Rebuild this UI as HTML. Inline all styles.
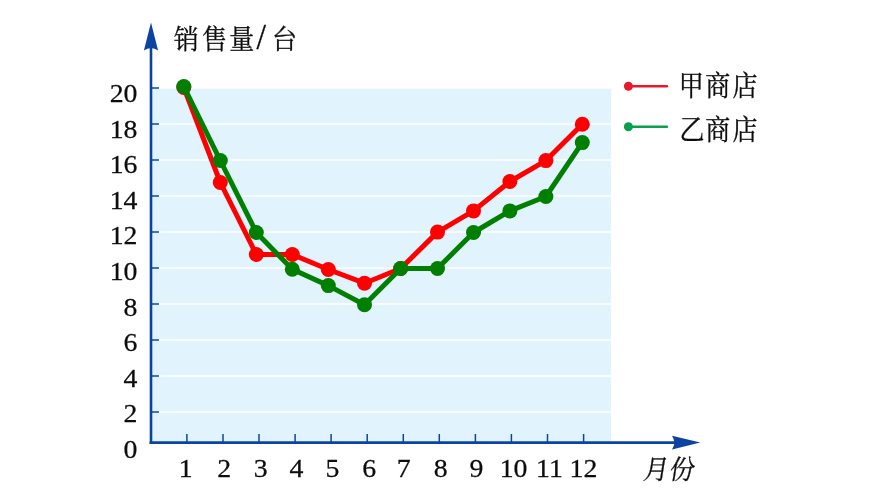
<!DOCTYPE html>
<html lang="zh-CN">
<head>
<meta charset="utf-8">
<title>销售量折线图</title>
<style>
html,body{margin:0;padding:0;background:#fff;}
body{width:870px;height:489px;overflow:hidden;}
svg{display:block;}
.num{font-family:"Liberation Serif","Noto Serif CJK SC",serif;font-size:26px;fill:#0d0d0d;stroke:#0d0d0d;stroke-width:0.25px;}
.cjk{font-family:"Liberation Serif","Noto Serif CJK SC",serif;font-size:25px;fill:#0d0d0d;stroke:#0d0d0d;stroke-width:0.3px;}
</style>
</head>
<body>
<svg width="870" height="489" viewBox="0 0 870 489">
<rect x="0" y="0" width="870" height="489" fill="#ffffff"/>
<rect x="151" y="88" width="460" height="354" fill="#e1f3fd"/>

<line x1="152" y1="88" x2="611" y2="88" stroke="#ffffff" stroke-width="1.6"/>
<line x1="152" y1="124" x2="611" y2="124" stroke="#ffffff" stroke-width="1.6"/>
<line x1="152" y1="160" x2="611" y2="160" stroke="#ffffff" stroke-width="1.6"/>
<line x1="152" y1="196" x2="611" y2="196" stroke="#ffffff" stroke-width="1.6"/>
<line x1="152" y1="232" x2="611" y2="232" stroke="#ffffff" stroke-width="1.6"/>
<line x1="152" y1="268" x2="611" y2="268" stroke="#ffffff" stroke-width="1.6"/>
<line x1="152" y1="304" x2="611" y2="304" stroke="#ffffff" stroke-width="1.6"/>
<line x1="152" y1="340" x2="611" y2="340" stroke="#ffffff" stroke-width="1.6"/>
<line x1="152" y1="376" x2="611" y2="376" stroke="#ffffff" stroke-width="1.6"/>
<line x1="152" y1="412" x2="611" y2="412" stroke="#ffffff" stroke-width="1.6"/>
<line x1="151" y1="88" x2="159" y2="88" stroke="#0a44a0" stroke-width="1.5"/>
<line x1="151" y1="124" x2="159" y2="124" stroke="#0a44a0" stroke-width="1.5"/>
<line x1="151" y1="160" x2="159" y2="160" stroke="#0a44a0" stroke-width="1.5"/>
<line x1="151" y1="196" x2="159" y2="196" stroke="#0a44a0" stroke-width="1.5"/>
<line x1="151" y1="232" x2="159" y2="232" stroke="#0a44a0" stroke-width="1.5"/>
<line x1="151" y1="268" x2="159" y2="268" stroke="#0a44a0" stroke-width="1.5"/>
<line x1="151" y1="304" x2="159" y2="304" stroke="#0a44a0" stroke-width="1.5"/>
<line x1="151" y1="340" x2="159" y2="340" stroke="#0a44a0" stroke-width="1.5"/>
<line x1="151" y1="376" x2="159" y2="376" stroke="#0a44a0" stroke-width="1.5"/>
<line x1="151" y1="412" x2="159" y2="412" stroke="#0a44a0" stroke-width="1.5"/>
<line x1="186.9" y1="434" x2="186.9" y2="442" stroke="#0a44a0" stroke-width="1.5"/>
<line x1="223.0" y1="434" x2="223.0" y2="442" stroke="#0a44a0" stroke-width="1.5"/>
<line x1="259.0" y1="434" x2="259.0" y2="442" stroke="#0a44a0" stroke-width="1.5"/>
<line x1="295.1" y1="434" x2="295.1" y2="442" stroke="#0a44a0" stroke-width="1.5"/>
<line x1="331.1" y1="434" x2="331.1" y2="442" stroke="#0a44a0" stroke-width="1.5"/>
<line x1="367.2" y1="434" x2="367.2" y2="442" stroke="#0a44a0" stroke-width="1.5"/>
<line x1="403.3" y1="434" x2="403.3" y2="442" stroke="#0a44a0" stroke-width="1.5"/>
<line x1="439.3" y1="434" x2="439.3" y2="442" stroke="#0a44a0" stroke-width="1.5"/>
<line x1="475.4" y1="434" x2="475.4" y2="442" stroke="#0a44a0" stroke-width="1.5"/>
<line x1="511.4" y1="434" x2="511.4" y2="442" stroke="#0a44a0" stroke-width="1.5"/>
<line x1="547.5" y1="434" x2="547.5" y2="442" stroke="#0a44a0" stroke-width="1.5"/>
<line x1="583.6" y1="434" x2="583.6" y2="442" stroke="#0a44a0" stroke-width="1.5"/>
<line x1="151" y1="444" x2="151" y2="45" stroke="#0a44a0" stroke-width="2.6"/>
<line x1="149.6" y1="442.6" x2="676" y2="442.6" stroke="#0a44a0" stroke-width="2.6"/>
<path d="M151 22.6 L158.1 50.6 Q151 45.2 143.9 50.6 Z" fill="#0a44a0"/>
<path d="M700.3 442.6 L672 449.6 Q676.5 442.6 672 435.8 Z" fill="#0a44a0"/>
<text class="num" transform="translate(137.5 102.0) scale(1.07 1)" text-anchor="end">20</text>
<text class="num" transform="translate(137.5 137.6) scale(1.07 1)" text-anchor="end">18</text>
<text class="num" transform="translate(137.5 173.2) scale(1.07 1)" text-anchor="end">16</text>
<text class="num" transform="translate(137.5 208.8) scale(1.07 1)" text-anchor="end">14</text>
<text class="num" transform="translate(137.5 244.4) scale(1.07 1)" text-anchor="end">12</text>
<text class="num" transform="translate(137.5 280.0) scale(1.07 1)" text-anchor="end">10</text>
<text class="num" transform="translate(137.5 315.6) scale(1.07 1)" text-anchor="end">8</text>
<text class="num" transform="translate(137.5 351.2) scale(1.07 1)" text-anchor="end">6</text>
<text class="num" transform="translate(137.5 386.8) scale(1.07 1)" text-anchor="end">4</text>
<text class="num" transform="translate(137.5 422.4) scale(1.07 1)" text-anchor="end">2</text>
<text class="num" transform="translate(137.5 458.0) scale(1.07 1)" text-anchor="end">0</text>
<text class="num" transform="translate(185.8 477) scale(1.07 1)" text-anchor="middle">1</text>
<text class="num" transform="translate(224.1 477) scale(1.07 1)" text-anchor="middle">2</text>
<text class="num" transform="translate(260.6 477) scale(1.07 1)" text-anchor="middle">3</text>
<text class="num" transform="translate(296.5 477) scale(1.07 1)" text-anchor="middle">4</text>
<text class="num" transform="translate(332.5 477) scale(1.07 1)" text-anchor="middle">5</text>
<text class="num" transform="translate(369.1 477) scale(1.07 1)" text-anchor="middle">6</text>
<text class="num" transform="translate(403.8 477) scale(1.07 1)" text-anchor="middle">7</text>
<text class="num" transform="translate(440.6 477) scale(1.07 1)" text-anchor="middle">8</text>
<text class="num" transform="translate(476.5 477) scale(1.07 1)" text-anchor="middle">9</text>
<text class="num" transform="translate(513.6 477) scale(1.07 1)" text-anchor="middle">10</text>
<text class="num" transform="translate(549.4 477) scale(1.07 1)" text-anchor="middle">11</text>
<text class="num" transform="translate(583.4 477) scale(1.07 1)" text-anchor="middle">12</text>
<text class="cjk" transform="translate(0 48.5) scale(1 1.08)"><tspan x="173.7">销</tspan><tspan x="202">售</tspan><tspan x="229.2">量</tspan><tspan x="256.6" font-size="34">/</tspan><tspan x="272">台</tspan></text>
<text class="cjk" transform="translate(0 478.5) skewX(-9) scale(1 1.08)"><tspan x="642.6">月</tspan><tspan x="668.6">份</tspan></text>
<polyline points="183.8,87.5 220.3,182.5 256.3,254.5 292.3,254.5 328.3,269.5 364.5,283.2 400.7,268.5 437.5,232.1 473.5,210.9 509.9,181.5 545.9,160.6 582.3,124.2" fill="none" stroke="#fe0000" stroke-width="5" stroke-linejoin="round" stroke-linecap="round"/>
<circle cx="183.8" cy="87.5" r="7.5" fill="#fe0000"/>
<circle cx="220.3" cy="182.5" r="7.5" fill="#fe0000"/>
<circle cx="256.3" cy="254.5" r="7.5" fill="#fe0000"/>
<circle cx="292.3" cy="254.5" r="7.5" fill="#fe0000"/>
<circle cx="328.3" cy="269.5" r="7.5" fill="#fe0000"/>
<circle cx="364.5" cy="283.2" r="7.5" fill="#fe0000"/>
<circle cx="400.7" cy="268.5" r="7.5" fill="#fe0000"/>
<circle cx="437.5" cy="232.1" r="7.5" fill="#fe0000"/>
<circle cx="473.5" cy="210.9" r="7.5" fill="#fe0000"/>
<circle cx="509.9" cy="181.5" r="7.5" fill="#fe0000"/>
<circle cx="545.9" cy="160.6" r="7.5" fill="#fe0000"/>
<circle cx="582.3" cy="124.2" r="7.5" fill="#fe0000"/>
<polyline points="183.8,86.5 220.3,160.5 256.3,232.5 292.3,269.3 328.3,285.6 364.5,304.7 400.7,268.5 437.5,268.5 473.5,232.5 509.9,210.9 545.9,196.5 582.3,142.6" fill="none" stroke="#007f00" stroke-width="5" stroke-linejoin="round" stroke-linecap="round"/>
<circle cx="183.8" cy="86.5" r="7.5" fill="#007f00"/>
<circle cx="220.3" cy="160.5" r="7.5" fill="#007f00"/>
<circle cx="256.3" cy="232.5" r="7.5" fill="#007f00"/>
<circle cx="292.3" cy="269.3" r="7.5" fill="#007f00"/>
<circle cx="328.3" cy="285.6" r="7.5" fill="#007f00"/>
<circle cx="364.5" cy="304.7" r="7.5" fill="#007f00"/>
<circle cx="400.7" cy="268.5" r="7.5" fill="#007f00"/>
<circle cx="437.5" cy="268.5" r="7.5" fill="#007f00"/>
<circle cx="473.5" cy="232.5" r="7.5" fill="#007f00"/>
<circle cx="509.9" cy="210.9" r="7.5" fill="#007f00"/>
<circle cx="545.9" cy="196.5" r="7.5" fill="#007f00"/>
<circle cx="582.3" cy="142.6" r="7.5" fill="#007f00"/>
<line x1="628.4" y1="86.3" x2="667" y2="86.3" stroke="#e8192c" stroke-width="2.4" stroke-linecap="round"/>
<circle cx="628.4" cy="86.3" r="4.5" fill="#e8192c"/>
<line x1="628.4" y1="126.7" x2="667" y2="126.7" stroke="#0aa050" stroke-width="2.4" stroke-linecap="round"/>
<circle cx="628.4" cy="126.7" r="4.5" fill="#0aa050"/>
<text class="cjk" transform="translate(0 95.6) scale(1 1.14)"><tspan x="678.8">甲</tspan><tspan x="705.2">商</tspan><tspan x="732.5">店</tspan></text>
<text class="cjk" transform="translate(0 139.6) scale(1 1.14)"><tspan x="679.6">乙</tspan><tspan x="705.2">商</tspan><tspan x="732.5">店</tspan></text>
</svg>
</body>
</html>
